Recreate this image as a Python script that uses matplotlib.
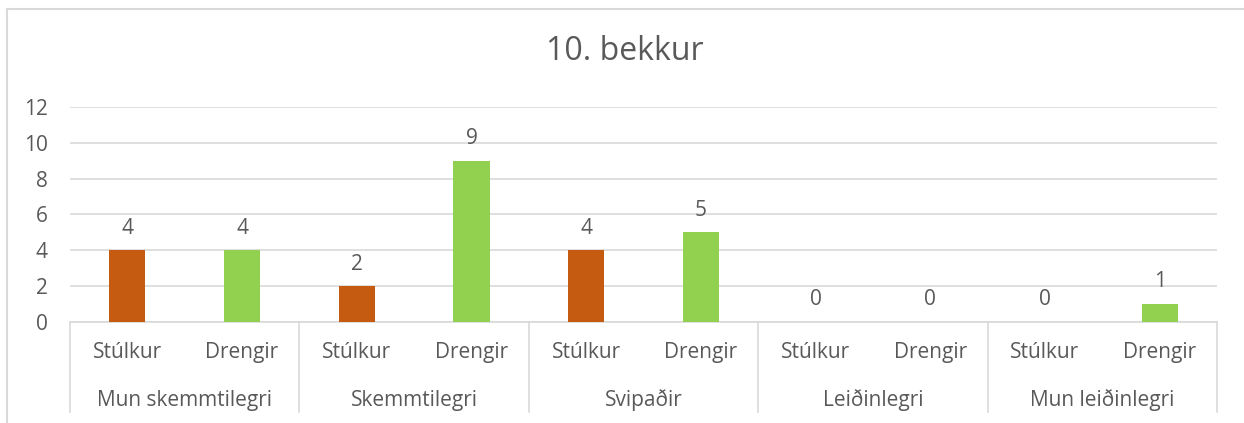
import matplotlib.pyplot as plt
from matplotlib.lines import Line2D

# data
groups = ["Mun skemmtilegri", "Skemmtilegri", "Svipaðir", "Leiðinlegri", "Mun leiðinlegri"]
genders = ["Stúlkur", "Drengir"]
stulkur = [4, 2, 4, 0, 0]
drengir = [4, 9, 5, 0, 1]

orange = "#C55A11"
green = "#92D050"
txt = "#595959"
grid = "#D9D9D9"

plt.rcParams["font.family"] = ["Open Sans", "DejaVu Sans"]

fig = plt.figure(figsize=(12.44, 4.23), dpi=100)
ax = fig.add_axes([70 / 1244, 1 - 322 / 423, 1147 / 1244, 215 / 423])

values = []
colors = []
labels = []
for s, d in zip(stulkur, drengir):
    values += [s, d]
    colors += [orange, green]
    labels += genders
x = list(range(len(values)))
ax.bar(x, values, width=0.315, color=colors, zorder=3)
for xi, v in zip(x, values):
    ax.text(xi, v + 0.65, str(v), ha="center", va="bottom", fontsize=15, color=txt)

ax.set_xlim(-0.5, len(values) - 0.5)
ax.set_ylim(0, 12)
ax.set_yticks(range(0, 13, 2))
ax.tick_params(axis="y", length=0, labelsize=15, labelcolor=txt, pad=16)
ax.set_xticks([])
ax.grid(axis="y", color=grid, linewidth=1.2, zorder=0)
for sp in ["top", "right", "left"]:
    ax.spines[sp].set_visible(False)
ax.spines["bottom"].set_color(grid)
ax.spines["bottom"].set_linewidth(1.2)

# two-level category axis
trans = ax.get_xaxis_transform()
for xi, lab in zip(x, labels):
    ax.text(xi, -30 / 215, lab, transform=trans, ha="center", va="center",
            fontsize=15, color=txt)
for gi, g in enumerate(groups):
    ax.text(2 * gi + 0.5, -78 / 215, g, transform=trans, ha="center", va="center",
            fontsize=15, color=txt)
for b in range(len(groups) + 1):
    ax.add_line(Line2D([2 * b - 0.5] * 2, [0, -90 / 215], transform=trans,
                       color=grid, linewidth=1.2, clip_on=False))

fig.text(625 / 1244, 1 - 52 / 423, "10. bekkur", ha="center", va="center",
         fontsize=23, color=txt)

# chart frame
fig.add_artist(Line2D([7 / 1244, 7 / 1244], [0, 1 - 9 / 423], transform=fig.transFigure,
                      color=grid, linewidth=1.5))
fig.add_artist(Line2D([7 / 1244, 1], [1 - 9 / 423, 1 - 9 / 423], transform=fig.transFigure,
                      color=grid, linewidth=1.5))

fig.savefig("out.png", dpi=100, facecolor="white")
